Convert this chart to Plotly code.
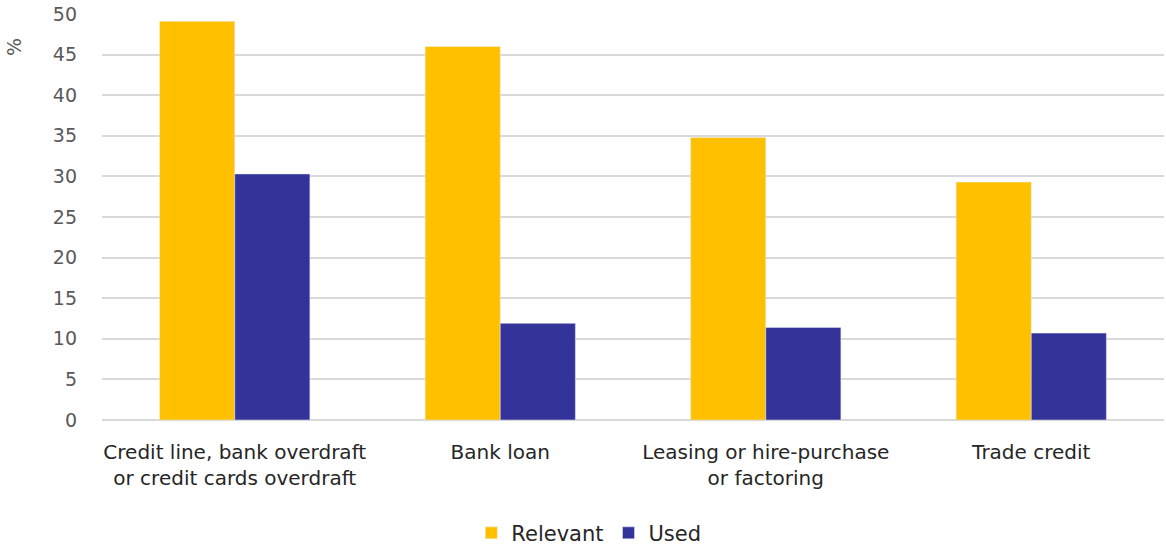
import plotly.graph_objects as go

categories = ["Credit line, bank overdraft<br>or credit cards overdraft", "Bank loan",
              "Leasing or hire-purchase<br>or factoring", "Trade credit"]
relevant = [49.1, 46.0, 34.8, 29.3]
used = [30.3, 11.9, 11.4, 10.7]
y_ticks = [0, 5, 10, 15, 20, 25, 30, 35, 40, 45, 50]

FONT = "DejaVu Sans"

fig = go.Figure()
fig.add_trace(go.Bar(x=categories, y=relevant, name="Relevant", marker=dict(color="#FFC000")))
fig.add_trace(go.Bar(x=categories, y=used, name="Used", marker=dict(color="#333399")))

fig.update_layout(
    width=1166, height=548,
    margin=dict(l=102, r=2, t=14, b=128),
    paper_bgcolor="white", plot_bgcolor="white",
    barmode="group", bargap=0.434, bargroupgap=0,
    font=dict(family=FONT, size=19, color="#262626"),
    legend=dict(orientation="h", xref="container", yref="container", x=0.505, xanchor="center",
                y=0.027, yanchor="middle", font=dict(size=21, color="#262626"),
                itemwidth=30, traceorder="normal"),
    xaxis=dict(showgrid=False, showline=False, ticks="", ticklabelstandoff=18,
               tickfont=dict(size=20, color="#262626")),
    yaxis=dict(range=[0, 50], tickvals=y_ticks, showgrid=True, gridcolor="#d9d9d9", gridwidth=1.5,
               zeroline=True, zerolinecolor="#d9d9d9", zerolinewidth=1.5,
               tickfont=dict(size=19, color="#595959"), ticks="", ticklabelstandoff=24),
    annotations=[dict(text="%", xref="paper", yref="paper", x=(14 - 102) / 1062, xanchor="center",
                      y=1 - 33 / 406, yanchor="middle", showarrow=False,
                      textangle=-90, font=dict(size=19, color="#595959"))],
)

fig.write_html("out.html", post_script="document.body.style.margin='0';",
               config={"displayModeBar": False})
